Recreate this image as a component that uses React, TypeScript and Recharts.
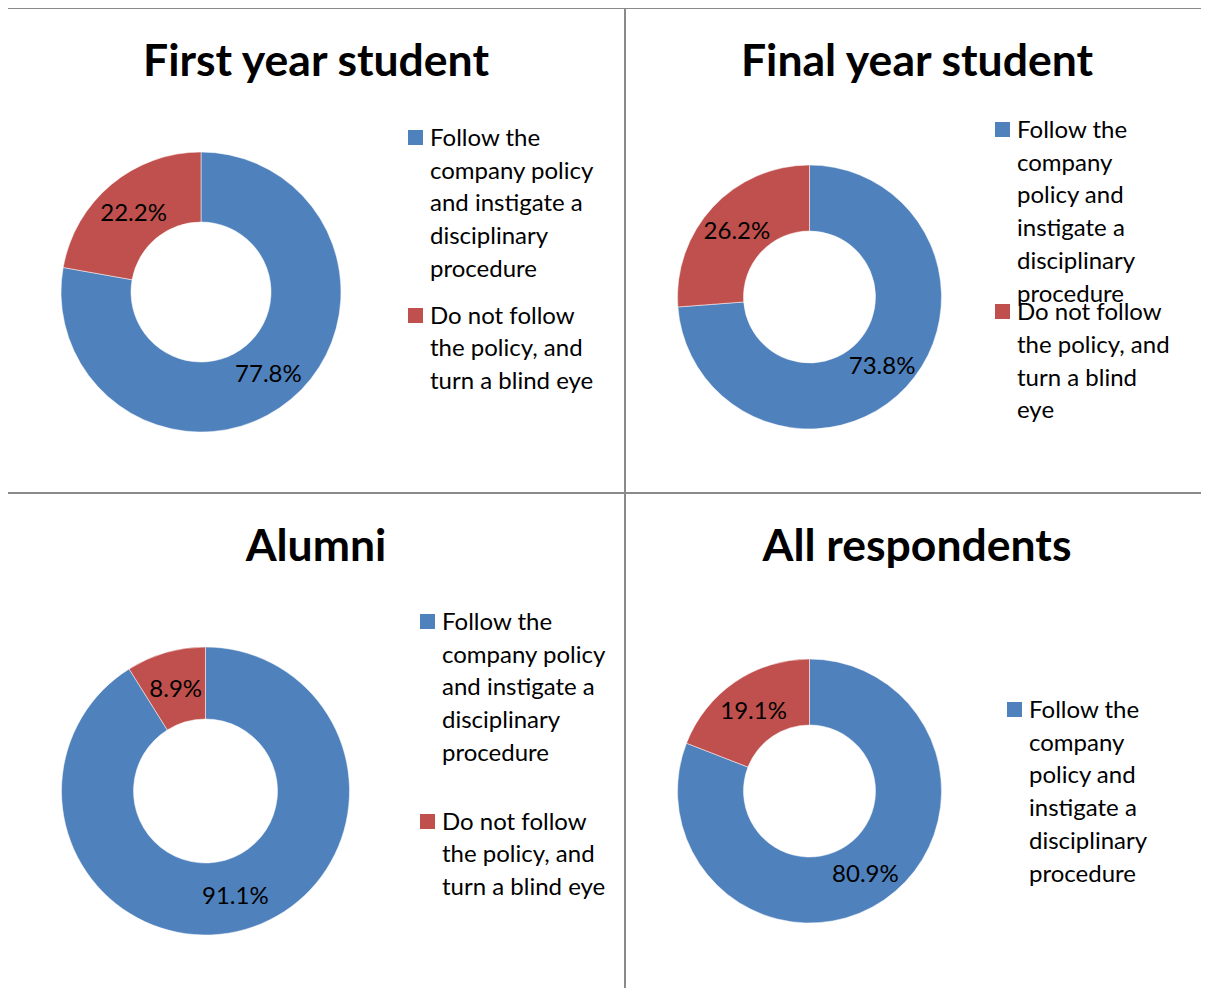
import { Legend, Pie, PieChart } from "recharts";

const groups = ["First year student", "Final year student", "Alumni", "All respondents"];
const responses = [
  "Follow the company policy and instigate a disciplinary procedure",
  "Do not follow the policy, and turn a blind eye",
];
const followShare = [77.8, 73.8, 91.1, 80.9];
const blindEyeShare = [22.2, 26.2, 8.9, 19.1];

const COLORS = ["#4F81BD", "#C0504D"];
const FONT = "Lato, Carlito, Calibri, sans-serif";
const TEXT_SIZE = 24;

// panel frames and ring geometry
const panels = [
  { left: 7, top: 8, width: 618, height: 485, cx: 194, cy: 284, outer: 140, inner: 70, legendLeft: 401, legendTop: 113, textWidth: 176, itemGap: 14, items: 2 },
  { left: 625, top: 8, width: 584, height: 485, cx: 184.5, cy: 289, outer: 132, inner: 66, legendLeft: 370, legendTop: 105, textWidth: 159, itemGap: -14, items: 2 },
  { left: 7, top: 493, width: 618, height: 503, cx: 198.5, cy: 298, outer: 144, inner: 72, legendLeft: 413, legendTop: 112, textWidth: 176, itemGap: 36, items: 2 },
  { left: 625, top: 493, width: 584, height: 503, cx: 184.5, cy: 298, outer: 132, inner: 66, legendLeft: 382, legendTop: 200, textWidth: 159, itemGap: 0, items: 1 },
];

const RAD = Math.PI / 180;

function renderLabel(props: any) {
  const { cx, cy, midAngle, innerRadius, outerRadius, value } = props;
  const r = (innerRadius + outerRadius) / 2;
  const x = cx + r * Math.cos(-midAngle * RAD);
  const y = cy + r * Math.sin(-midAngle * RAD);
  return (
    <text x={x} y={y} textAnchor="middle" dominantBaseline="central" fill="#000" fontFamily={FONT} fontSize={TEXT_SIZE}>
      {`${value.toFixed(1)}%`}
    </text>
  );
}

function makeLegend(textWidth: number, itemGap: number, items: number) {
  return (props: any) => {
    const entries = [...(props.payload || [])]
      .sort((a: any, b: any) => responses.indexOf(a.value) - responses.indexOf(b.value))
      .slice(0, items);
    return (
      <div style={{ fontFamily: FONT, fontSize: TEXT_SIZE, lineHeight: "32.7px", color: "#000" }}>
        {entries.map((entry: any, i: number) => (
          <div key={entry.value} style={{ display: "flex", marginTop: i === 0 ? 0 : itemGap }}>
            <span style={{ width: 15, height: 15, marginTop: 9, marginRight: 7, background: entry.color, flexShrink: 0 }} />
            <span style={{ width: textWidth }}>{entry.value}</span>
          </div>
        ))}
      </div>
    );
  };
}

function Panel({ index }: { index: number }) {
  const p = panels[index];
  const data = [
    { name: responses[0], value: followShare[index], fill: COLORS[0] },
    { name: responses[1], value: blindEyeShare[index], fill: COLORS[1] },
  ];
  return (
    <div style={{ position: "absolute", left: p.left, top: p.top, width: p.width, height: p.height }}>
      <div
        style={{
          position: "absolute",
          left: 0,
          top: 25,
          width: p.width,
          textAlign: "center",
          fontFamily: FONT,
          fontWeight: 700,
          fontSize: 44.5,
          lineHeight: "52px",
          color: "#000",
        }}
      >
        {groups[index]}
      </div>
      <div style={{ position: "absolute", left: 0, top: 0 }}>
        <PieChart width={p.width} height={p.height} margin={{ top: 0, right: 0, bottom: 0, left: 0 }}>
          <Pie
            data={data}
            dataKey="value"
            nameKey="name"
            cx={p.cx}
            cy={p.cy}
            innerRadius={p.inner}
            outerRadius={p.outer}
            startAngle={90}
            endAngle={-270}
            stroke="#ffffff"
            strokeWidth={0.5}
            label={renderLabel}
            labelLine={false}
            isAnimationActive={false}
          />
          <Legend
            layout="vertical"
            align="right"
            verticalAlign="top"
            content={makeLegend(p.textWidth, p.itemGap, p.items)}
            wrapperStyle={{ left: p.legendLeft, top: p.legendTop, width: "auto", right: "auto" }}
          />
        </PieChart>
      </div>
    </div>
  );
}

export default function App() {
  const line = "#8a8a8a";
  return (
    <div style={{ position: "relative", width: 1209, height: 996, margin: -8, background: "#fff", overflow: "hidden" }}>
      {groups.map((g, i) => (
        <Panel key={g} index={i} />
      ))}
      <div style={{ position: "absolute", left: 6, top: 7, width: 1203, height: 2, background: line }} />
      <div style={{ position: "absolute", left: 6, top: 492, width: 1203, height: 2, background: line }} />
      <div style={{ position: "absolute", left: 6, top: 7, width: 2, height: 989, background: line }} />
      <div style={{ position: "absolute", left: 624, top: 7, width: 2, height: 989, background: line }} />
    </div>
  );
}
